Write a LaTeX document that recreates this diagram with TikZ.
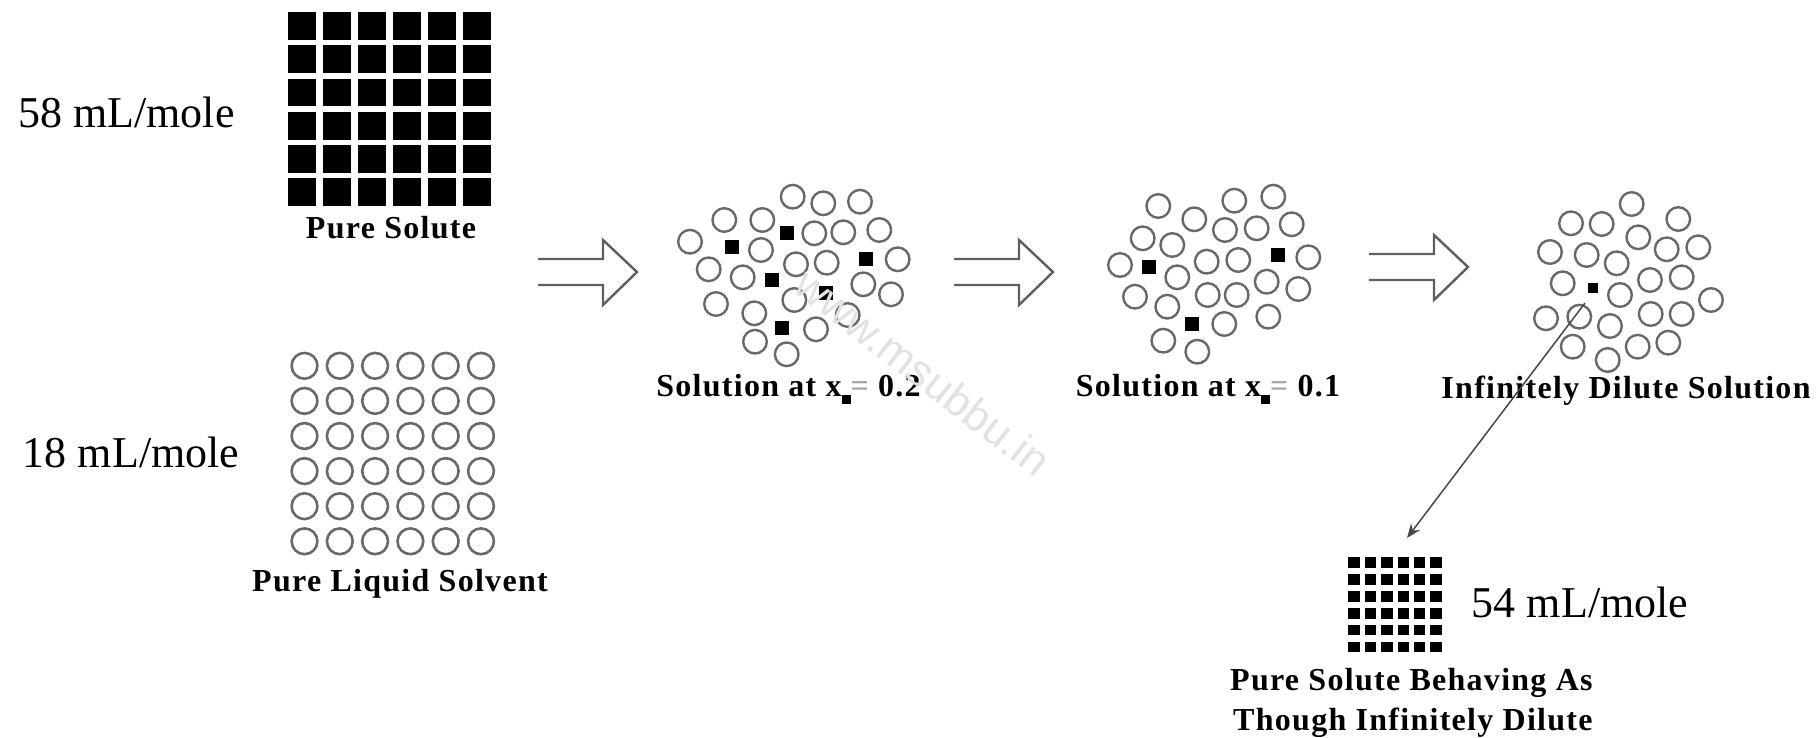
\documentclass[tikz,border=0pt]{standalone}
\usepackage{fontspec}
\setmainfont{Liberation Serif}
\newfontfamily\lblfont{Liberation Serif}[LetterSpace=4.0]
\newfontfamily\wmfont{Liberation Sans}
\usetikzlibrary{arrows.meta}
\definecolor{ringgray}{RGB}{105,105,105}
\definecolor{arrgray}{RGB}{95,95,95}
\definecolor{eqgray}{RGB}{165,165,165}
\definecolor{wmgray}{RGB}{226,226,226}
\begin{document}
\begin{tikzpicture}[x=1pt,y=-1pt,
  ring/.style={draw=ringgray,line width=2.4pt},
  bigring/.style={draw=ringgray,line width=2.6pt},
  lbl/.style={font=\lblfont\bfseries\fontsize{32}{40}\selectfont,inner sep=0pt,anchor=base},
  vol/.style={font=\fontsize{44}{50}\selectfont,inner sep=0pt,anchor=base west},
  hollow arrow/.pic={\draw[draw=arrgray,line width=2.4pt,line join=miter]
     (-99,-13) -- (-34,-13) -- (-34,-32) -- (0,0) -- (-34,33) -- (-34,13) -- (-99,13);}
]
\useasboundingbox (0,0) rectangle (1816,738);

% pure solute grid
\foreach \i in {0,...,5}
  \foreach \j in {0,...,5}
    \fill ({288.3+34.9*\i},{12.3+33.2*\j}) rectangle +(28,27.7);

% pure solvent grid
\foreach \i in {0,...,5}
  \foreach \j in {0,...,5}
    \draw[bigring] ({304.5+35.3*\i},{365.8+35.1*\j}) circle[radius=12.9pt];

% volume labels
\node[vol] (v58) at (18,128) {58 mL/mole};
\node[vol] (v18) at (22.7,467) {18 mL/mole};
\node[vol] (v54) at (1471.7,617) {54 mL/mole};

% hollow arrows
\pic at (637,272) {hollow arrow};
\pic at (1053,272) {hollow arrow};
\pic at (1468,267) {hollow arrow};

% cluster x = 0.2
\foreach \x/\y in {792.7/196.7, 823.3/203.3, 860/201.7, 724.3/220, 762.3/220,
  814.3/233.3, 843.3/232.3, 879.3/230, 690/241.7, 761/250, 708.7/269.3,
  742.7/277.3, 796/264.3, 826.7/262.7, 897.7/259.3, 863.3/284.3, 891/294.3,
  716/304, 794.3/300, 754.3/313.3, 847.7/315, 816/329.3, 755/341.7, 786.7/354.3}
  \draw[ring] (\x,\y) circle[radius=11.8pt];
\foreach \x/\y in {732/247.3, 786.7/232.7, 866/259.3, 772.3/280, 825.7/292.7, 781.7/328.3}
  \fill (\x,\y) ++(-7,-7) rectangle +(14,14);

% cluster x = 0.1
\foreach \x/\y in {1158.3/206, 1234.3/200.7, 1273.3/196.7, 1194.3/219.3, 1225/230,
  1256.7/228.3, 1291.7/224.3, 1142.7/238.3, 1172.3/245, 1120/265, 1177.3/277.3,
  1206.7/261.7, 1238.3/260, 1308.3/257.3, 1266.7/281.7, 1298.3/289, 1135/296.7,
  1167.3/306.7, 1207.7/295, 1236.7/295, 1268.3/316.7, 1224.3/324, 1163.3/340.7, 1197.3/351.7}
  \draw[ring] (\x,\y) circle[radius=11.8pt];
\foreach \x/\y in {1149/267.3, 1277.7/255, 1192.3/324.3}
  \fill (\x,\y) ++(-7,-7) rectangle +(14,14);

% infinitely dilute cluster
\foreach \x/\y in {1631.7/204, 1571/223.3, 1601.7/224, 1678.3/219, 1638.3/237.3,
  1666.7/249.3, 1698.3/247.3, 1550/252, 1586.7/255, 1616.7/263.3, 1562.7/283.3,
  1650/280, 1681.7/277.3, 1620/295, 1711/300, 1546/318.3, 1579.3/316.7, 1650.7/314,
  1681.7/314, 1610/326, 1572.7/346.7, 1637.7/346.7, 1668.3/342.7, 1607.7/360}
  \draw[ring] (\x,\y) circle[radius=11.8pt];
\fill (1593.3,288.3) ++(-5,-5) rectangle +(10,10);

% mini solute grid
\foreach \i in {0,...,5}
  \foreach \j in {0,...,5}
    \fill ({1348.3+16.4*\i},{557.3+16.9*\j}) rectangle +(11.5,10.5);

% labels
\node[lbl] (pslbl) at (391,239) {Pure Solute};
\node[lbl] (plslbl) at (400,591) {Pure Liquid Solvent};
\node[lbl] (s2lbl) at (788.5,396) {Solution at x\raisebox{-8pt}{\rule{9pt}{9pt}}\textcolor{eqgray}{=} 0.2};
\node[lbl] (s1lbl) at (1208,396) {Solution at x\raisebox{-8pt}{\rule{9pt}{9pt}}\textcolor{eqgray}{=} 0.1};
\node[lbl] (idlbl) at (1626,398) {Infinitely Dilute Solution};
\node[lbl,anchor=base west] (pb1) at (1230,690) {Pure Solute Behaving As};
\node[lbl,anchor=base west] (pb2) at (1233,730) {Though Infinitely Dilute};

% watermark
\node[font=\wmfont\fontsize{44}{50}\selectfont,text=wmgray,rotate=-37.6,inner sep=0pt] (wm) at (923,372) {www.msubbu.in};

% pointer arrow
\coordinate (dstart) at (1585,303);
\coordinate (dend) at (1407,538);
\draw[line width=1.5pt,draw=black!72,-{Stealth[length=14pt,width=11pt]}] (dstart) -- (dend);
\end{tikzpicture}
\end{document}
